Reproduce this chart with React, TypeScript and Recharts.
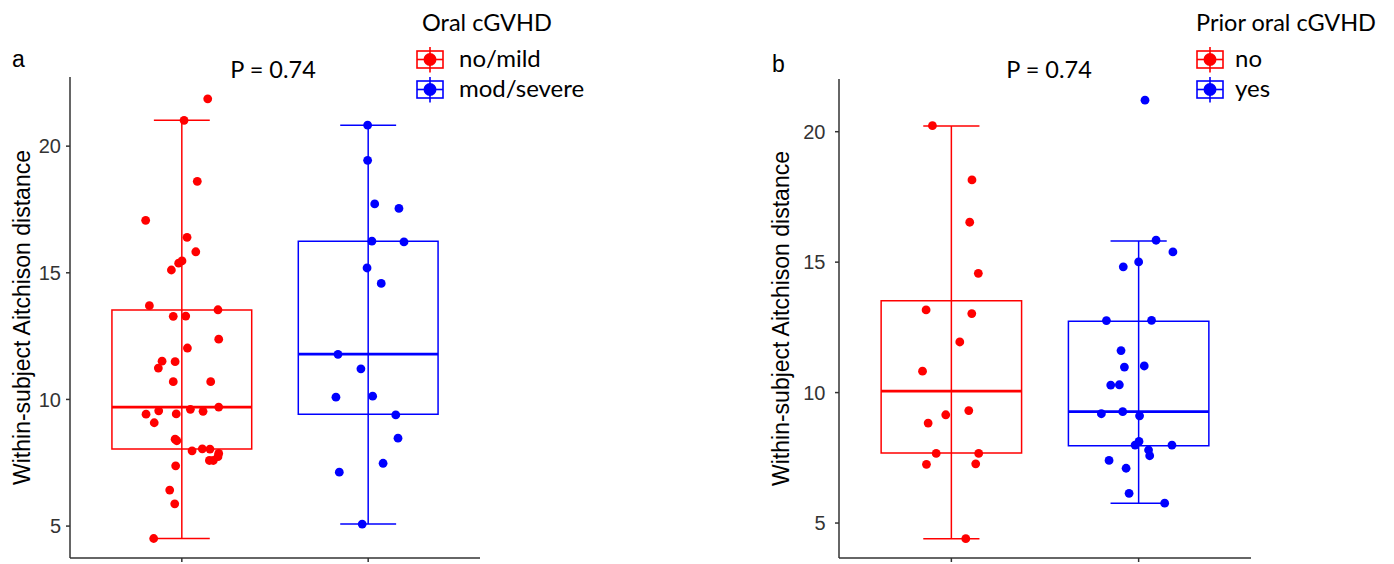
import { ComposedChart, Scatter, XAxis, YAxis, ReferenceArea, ReferenceLine, Legend } from 'recharts'

const RED = '#FF0000'
const BLUE = '#0000FF'
const groupColors = [RED, BLUE]
const yTicks = [5, 10, 15, 20]
const pLabel = 'P = 0.74'
const yLabel = 'Within-subject Aitchison distance'

// panel a: oral cGVHD
const aGroups = ['no/mild', 'mod/severe']
const aNoMildDist = [
  21.87, 21.02, 18.61, 17.07, 16.4, 15.83, 15.47, 15.38, 15.11, 13.7,
  13.54, 13.28, 13.29, 12.38, 12.03, 11.51, 11.49, 11.24, 10.7, 10.7,
  9.7, 9.61, 9.55, 9.53, 9.42, 9.43, 9.08, 8.43, 8.37, 7.97,
  8.05, 8.04, 7.87, 7.74, 7.59, 7.59, 7.38, 6.42, 5.88, 4.51,
]
const aNoMildJitter = [
  0.139, 0.012, 0.083, -0.194, 0.028, 0.075, 0.001, -0.017, -0.056, -0.174,
  0.194, -0.046, 0.021, 0.198, 0.03, -0.106, -0.036, -0.126, -0.046, 0.155,
  0.198, 0.046, -0.124, 0.114, -0.192, -0.03, -0.148, -0.036, -0.027, 0.055,
  0.11, 0.151, 0.198, 0.194, 0.148, 0.169, -0.033, -0.065, -0.038, -0.151,
]
const aModSevereDist = [
  20.83, 19.44, 17.72, 17.54, 16.25, 16.22, 15.19, 14.58, 11.78, 11.21,
  10.09, 10.13, 9.39, 8.47, 7.48, 7.13, 5.08,
]
const aModSevereJitter = [
  -0.003, -0.003, 0.035, 0.165, 0.02, 0.192, -0.006, 0.07, -0.162, -0.039,
  -0.173, 0.024, 0.148, 0.16, 0.08, -0.155, -0.032,
]
const aLow = [4.51, 5.08]
const aQ1 = [8.04, 9.42]
const aMedian = [9.7, 11.79]
const aQ3 = [13.53, 16.25]
const aHigh = [21.02, 20.83]

// panel b: prior oral cGVHD
const bGroups = ['no', 'yes']
const bNoDist = [
  20.23, 18.15, 16.53, 14.57, 13.17, 13.03, 11.94, 10.82, 9.31, 9.15,
  8.83, 7.67, 7.67, 7.25, 7.27, 4.4,
]
const bNoJitter = [
  -0.101, 0.11, 0.098, 0.144, -0.135, 0.109, 0.045, -0.154, 0.093, -0.03,
  -0.124, -0.081, 0.146, -0.133, 0.13, 0.077,
]
const bYesDist = [
  21.21, 15.84, 15.39, 15.01, 14.82, 12.76, 12.77, 11.61, 10.98, 11.02,
  10.29, 10.3, 9.19, 9.27, 9.11, 8.13, 7.99, 7.99, 7.8, 7.58,
  7.4, 7.1, 6.14, 5.76,
]
const bYesJitter = [
  0.034, 0.093, 0.183, 0.0, -0.082, -0.172, 0.069, -0.094, -0.076, 0.03,
  -0.149, -0.103, -0.199, -0.085, 0.005, 0.002, -0.019, 0.178, 0.053, 0.059,
  -0.158, -0.067, -0.051, 0.139,
]
const bLow = [4.4, 5.76]
const bQ1 = [7.68, 7.96]
const bMedian = [10.06, 9.27]
const bQ3 = [13.52, 12.73]
const bHigh = [20.22, 15.81]

const toPoints = (group: number, dist: number[], jitter: number[]) =>
  dist.map((y, i) => ({ x: group + 1 + jitter[i], y }))

interface PanelProps {
  groups: string[]
  points: { x: number; y: number }[][]
  low: number[]
  q1: number[]
  median: number[]
  q3: number[]
  high: number[]
  yDomain: [number, number]
  legendTitle: string
  marginLeft: number
  marginRight: number
  marginTop: number
  yAxisWidth: number
  labelOffset: number
  tickMargin: number
  legendLeft: number
  legendTitleX: number
  legendTextX: number
}

function LegendKey({ color, cy }: { color: string; cy: number }) {
  return (
    <g>
      <rect x={1} y={cy - 8.5} width={26} height={17} fill="white" stroke={color} strokeWidth={1.6} />
      <line x1={14} x2={14} y1={cy - 12.5} y2={cy + 13} stroke={color} strokeWidth={1.6} />
      <line x1={1} x2={27} y1={cy} y2={cy} stroke={color} strokeWidth={1.6} />
      <circle cx={14} cy={cy} r={6.5} fill={color} />
    </g>
  )
}

function Panel(p: PanelProps) {
  const dot = (color: string) => (props: any) => (
    <circle cx={props.cx} cy={props.cy} r={4.4} fill={color} />
  )
  return (
    <ComposedChart
      width={694}
      height={564}
      margin={{ top: p.marginTop, right: p.marginRight, bottom: 0, left: p.marginLeft }}
    >
      <XAxis
        type="number"
        dataKey="x"
        domain={[0.4, 2.6]}
        ticks={[1, 2]}
        tickFormatter={() => ''}
        tickSize={4}
        height={6}
        stroke="#333"
        strokeWidth={1.5}
        allowDataOverflow
      />
      <YAxis
        type="number"
        dataKey="y"
        domain={p.yDomain}
        ticks={yTicks}
        width={p.yAxisWidth}
        tickSize={4}
        tickMargin={p.tickMargin}
        stroke="#333"
        strokeWidth={1.5}
        allowDataOverflow
        tick={{ fontSize: 20, fill: '#333', fontFamily: 'Liberation Sans' }}
        label={{
          value: yLabel,
          angle: -90,
          position: 'insideLeft',
          offset: p.labelOffset,
          style: { textAnchor: 'middle', fontSize: 23, fill: '#000', fontFamily: 'Liberation Sans' },
        }}
      />
      {p.groups.map((g, i) => (
        <ReferenceArea
          key={'box' + g}
          x1={i + 1 - 0.375}
          x2={i + 1 + 0.375}
          y1={p.q1[i]}
          y2={p.q3[i]}
          fill="none"
          fillOpacity={0}
          stroke={groupColors[i]}
          strokeWidth={1.5}
          strokeOpacity={1}
        />
      ))}
      {p.groups.map((g, i) => (
        <ReferenceLine
          key={'wh' + g}
          segment={[{ x: i + 1, y: p.low[i] }, { x: i + 1, y: p.high[i] }]}
          stroke={groupColors[i]}
          strokeWidth={1.5}
        />
      ))}
      {p.groups.map((g, i) => (
        <ReferenceLine
          key={'lo' + g}
          segment={[{ x: i + 1 - 0.15, y: p.low[i] }, { x: i + 1 + 0.15, y: p.low[i] }]}
          stroke={groupColors[i]}
          strokeWidth={1.5}
        />
      ))}
      {p.groups.map((g, i) => (
        <ReferenceLine
          key={'hi' + g}
          segment={[{ x: i + 1 - 0.15, y: p.high[i] }, { x: i + 1 + 0.15, y: p.high[i] }]}
          stroke={groupColors[i]}
          strokeWidth={1.5}
        />
      ))}
      {p.groups.map((g, i) => (
        <ReferenceLine
          key={'md' + g}
          segment={[{ x: i + 1 - 0.375, y: p.median[i] }, { x: i + 1 + 0.375, y: p.median[i] }]}
          stroke={groupColors[i]}
          strokeWidth={2.8}
        />
      ))}
      {p.groups.map((g, i) => (
        <Scatter
          key={'pts' + g}
          name={g}
          data={p.points[i]}
          fill={groupColors[i]}
          shape={dot(groupColors[i])}
          isAnimationActive={false}
        />
      ))}
      <Legend
        layout="horizontal"
        verticalAlign="middle"
        align="center"
        wrapperStyle={{ position: 'absolute', left: p.legendLeft, top: 0, width: 240, height: 110 }}
        content={() => (
          <svg width={240} height={110} style={{ display: 'block' }}>
            <text x={p.legendTitleX} y={31} fontFamily="Lato" fontSize={23.5} fill="#000">
              {p.legendTitle}
            </text>
            {p.groups.map((g, i) => (
              <g key={g}>
                <LegendKey color={groupColors[i]} cy={59.5 + i * 30} />
                <text x={p.legendTextX} y={67 + i * 30} fontFamily="Lato" fontSize={24} fill="#000">
                  {g}
                </text>
              </g>
            ))}
          </svg>
        )}
      />
    </ComposedChart>
  )
}

export default function App() {
  return (
    <div style={{ position: 'absolute', left: 0, top: 0, width: 1394, height: 564, background: '#fff' }}>
      <div style={{ position: 'absolute', left: 0, top: 0 }}>
        <Panel
          groups={aGroups}
          points={[toPoints(0, aNoMildDist, aNoMildJitter), toPoints(1, aModSevereDist, aModSevereJitter)]}
          low={aLow}
          q1={aQ1}
          median={aMedian}
          q3={aQ3}
          high={aHigh}
          yDomain={[3.74, 22.73]}
          legendTitle="Oral cGVHD"
          marginLeft={20}
          marginRight={214}
          marginTop={77}
          yAxisWidth={50}
          labelOffset={2}
          tickMargin={5}
          legendLeft={416}
          legendTitleX={6}
          legendTextX={43}
        />
      </div>
      <div style={{ position: 'absolute', left: 700, top: 0 }}>
        <Panel
          groups={bGroups}
          points={[toPoints(0, bNoDist, bNoJitter), toPoints(1, bYesDist, bYesJitter)]}
          low={bLow}
          q1={bQ1}
          median={bMedian}
          q3={bQ3}
          high={bHigh}
          yDomain={[3.66, 22.02]}
          legendTitle="Prior oral cGVHD"
          marginLeft={79}
          marginRight={143}
          marginTop={79}
          yAxisWidth={60}
          labelOffset={2}
          tickMargin={9.5}
          legendLeft={496}
          legendTitleX={0}
          legendTextX={39}
        />
      </div>
      <svg
        width={1394}
        height={564}
        style={{ position: 'absolute', left: 0, top: 0, pointerEvents: 'none' }}
      >
        <text x={12} y={67} fontFamily="Liberation Sans" fontSize={23} fill="#000">a</text>
        <text x={772} y={72} fontFamily="Liberation Sans" fontSize={23} fill="#000">b</text>
        <text x={273} y={78} textAnchor="middle" fontFamily="Lato" fontSize={23.5} fill="#000">{pLabel}</text>
        <text x={1049} y={78} textAnchor="middle" fontFamily="Lato" fontSize={23.5} fill="#000">{pLabel}</text>
      </svg>
    </div>
  )
}
